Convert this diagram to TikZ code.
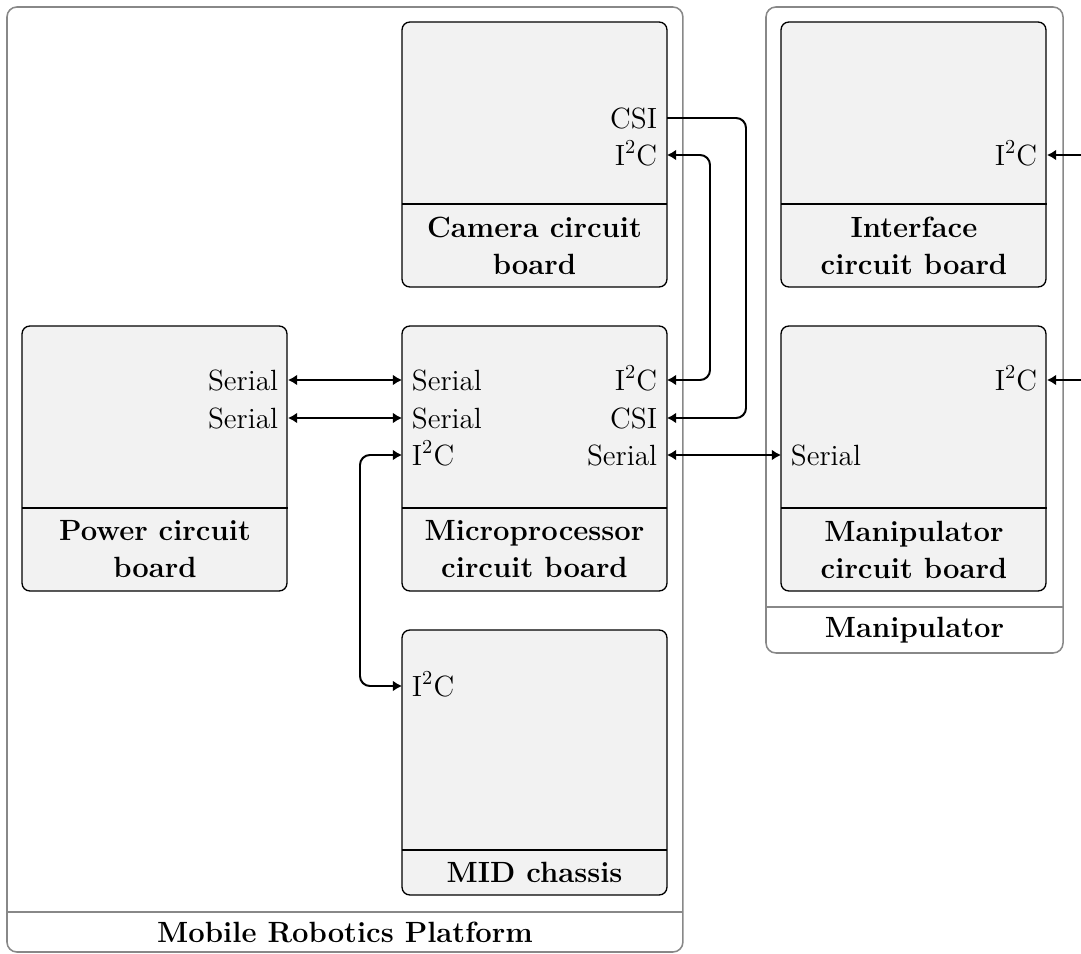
\documentclass[tikz,border=0pt]{standalone}
\usetikzlibrary{arrows.meta}
\definecolor{cont}{RGB}{136,136,136}
\definecolor{boxfill}{RGB}{242,242,242}
\begin{document}
\begin{tikzpicture}[x=0.4545pt,y=-0.4545pt,
  every node/.style={font=\fontsize{13.3}{16.8}\selectfont},
  container/.style={draw=cont, line width=0.7pt, rounded corners=4.5pt, anchor=north west, inner sep=0pt, outer sep=0pt},
  board/.style={draw=black, fill=boxfill, line width=0.6pt, rounded corners=3.6pt, anchor=north west, inner sep=0pt, outer sep=0pt, minimum width=120.44pt, minimum height=120.44pt},
  portR/.style={anchor=east, inner ysep=0pt, inner xsep=4.5pt, outer sep=0pt, text height=9.1pt, text depth=0pt},
  portL/.style={anchor=west, inner ysep=0pt, inner xsep=4.5pt, outer sep=0pt, text height=9.1pt, text depth=0pt},
  title/.style={font=\fontsize{13.3}{16.8}\selectfont\bfseries, align=center},
  divider/.style={draw=black, line width=0.6pt},
  cdivider/.style={draw=cont, line width=0.7pt},
  conn/.style={draw=black, line width=0.9pt, rounded corners=4.5pt, >={Latex[length=4.2pt,width=5pt]}}]
\useasboundingbox (0,0) rectangle (1081,954);
\clip (0,0) rectangle (1081,954);
% containers
\node[container, minimum width=307.2pt, minimum height=429.5pt] (mrp) at (7,7) {};
\draw[cdivider] (7,912) -- (683,912);
\node[title] (mrplabel) at (345,932) {Mobile Robotics Platform};
\node[container, minimum width=135pt, minimum height=293.6pt] (manc) at (766,7) {};
\draw[cdivider] (766,607) -- (1063,607);
\node[title] (manclabel) at (914.5,630) {Manipulator};
% boards
\node[board] (cam) at (402,22) {};
\draw[divider] (402,204) -- (667,204);
\node[title] (camt) at (534.5,245.5) {Camera circuit\\board};
\node[board] (intf) at (781,22) {};
\draw[divider] (781,204) -- (1047,204);
\node[title] (intft) at (914,245.5) {Interface\\circuit board};
\node[board] (pow) at (22,326) {};
\draw[divider] (22,508) -- (288,508);
\node[title] (powt) at (155,549.5) {Power circuit\\board};
\node[board] (mic) at (402,326) {};
\draw[divider] (402,508) -- (667,508);
\node[title] (mict) at (534.5,549.5) {Microprocessor\\circuit board};
\node[board] (manb) at (781,326) {};
\draw[divider] (781,508) -- (1047,508);
\node[title] (manbt) at (914,549.5) {Manipulator\\circuit board};
\node[board] (mid) at (402,630) {};
\draw[divider] (402,850) -- (667,850);
\node[title] (midt) at (534.5,872.5) {MID chassis};
% ports
\node[portR] (camcsi) at (667,118) {CSI};
\node[portR] (cami2c) at (667,155) {I$^2$C};
\node[portR] (intfi2c) at (1047,155) {I$^2$C};
\node[portR] (pows1) at (288,380) {Serial};
\node[portR] (pows2) at (288,418) {Serial};
\node[portL] (mics1) at (402,380) {Serial};
\node[portL] (mics2) at (402,418) {Serial};
\node[portL] (mici2cl) at (402,455) {I$^2$C};
\node[portR] (mici2cr) at (667,380) {I$^2$C};
\node[portR] (miccsi) at (667,418) {CSI};
\node[portR] (micser) at (667,455) {Serial};
\node[portR] (manbi2c) at (1047,380) {I$^2$C};
\node[portL] (manbser) at (781,455) {Serial};
\node[portL] (midi2c) at (402,686) {I$^2$C};
% routing coordinates
\coordinate (v1) at (746,0);
\coordinate (v2) at (710,0);
\coordinate (v3) at (360,0);
\coordinate (v4) at (1100,0);
% connectors
\draw[conn,<->] (pows1.east) -- (mics1.west);
\draw[conn,<->] (pows2.east) -- (mics2.west);
\draw[conn,<->] (micser.east) -- (manbser.west);
\draw[conn,->] (camcsi.east) -| (v1 |- miccsi.east) -- (miccsi.east);
\draw[conn,<->] (cami2c.east) -| (v2 |- mici2cr.east) -- (mici2cr.east);
\draw[conn,<->] (mici2cl.west) -| (v3 |- midi2c.west) -- (midi2c.west);
\draw[conn,<->] (intfi2c.east) -| (v4 |- manbi2c.east) -- (manbi2c.east);
\end{tikzpicture}
\end{document}
